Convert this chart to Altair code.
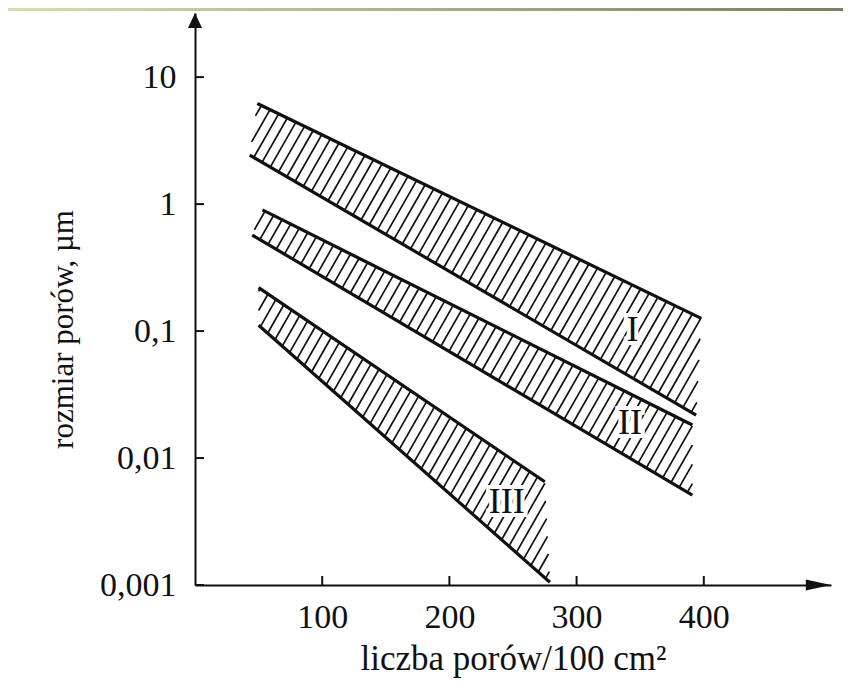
import altair as alt
import pandas as pd
import numpy as np

# ---------------- data ----------------
x_ticks = [100, 200, 300, 400]
y_ticks = [0.001, 0.01, 0.1, 1, 10]

band_names = ["I", "II", "III"]
# upper boundary line of each band (start / end)
top_x0 = [49, 53, 50]
top_y0 = [6.2, 0.9, 0.22]
top_x1 = [398, 391, 275]
top_y1 = [0.126, 0.0182, 0.0065]
# lower boundary line of each band (start / end)
bot_x0 = [43, 45, 50]
bot_y0 = [2.43, 0.57, 0.111]
bot_x1 = [394, 391, 279]
bot_y1 = [0.0218, 0.0051, 0.00105]
# roman numeral labels
label_x = [344, 342, 245]
label_y = [0.102, 0.019, 0.0045]

# ---------------- layout ----------------
W, H = 636, 572
X_DOM = [0, 500]
Y_DOM = [0.001, 32]
FONT = "Liberation Serif"
INK = "#111111"

xs = alt.Scale(domain=X_DOM, nice=False, zero=False)
ys = alt.Scale(type="log", domain=Y_DOM, nice=False)

# boundary lines table
rows = []
for i, n in enumerate(band_names):
    rows.append(dict(band=n, x=top_x0[i], y=top_y0[i], x2=top_x1[i], y2=top_y1[i]))
    rows.append(dict(band=n, x=bot_x0[i], y=bot_y0[i], x2=bot_x1[i], y2=bot_y1[i]))
lines_df = pd.DataFrame(rows)

# hatch segments derived from the band outlines (decoration)
kx = W / (X_DOM[1] - X_DOM[0])
ky = H / np.log10(Y_DOM[1] / Y_DOM[0])
slope = 1.75          # pixel slope of hatch strokes
gap = 11.0            # horizontal pixel gap between strokes
hrows = []
for i, n in enumerate(band_names):
    pts = [(bot_x0[i], bot_y0[i]), (bot_x1[i], bot_y1[i]),
           (top_x1[i], top_y1[i]), (top_x0[i], top_y0[i])]
    P = [((x - X_DOM[0]) * kx, np.log10(y / Y_DOM[0]) * ky) for x, y in pts]
    cs = [v - slope * u for u, v in P]
    step = gap * slope
    for c in np.arange(min(cs) + step * 0.6, max(cs), step):
        hits = []
        for j in range(4):
            (u1, v1), (u2, v2) = P[j], P[(j + 1) % 4]
            f1 = v1 - slope * u1 - c
            f2 = v2 - slope * u2 - c
            if f1 == f2:
                continue
            t = f1 / (f1 - f2)
            if 0 <= t <= 1:
                hits.append((u1 + t * (u2 - u1), v1 + t * (v2 - v1)))
        if len(hits) >= 2:
            hits.sort()
            (ua, va), (ub, vb) = hits[0], hits[-1]
            if ub - ua < 1:
                continue
            hrows.append(dict(band=n,
                              x=ua / kx + X_DOM[0], y=Y_DOM[0] * 10 ** (va / ky),
                              x2=ub / kx + X_DOM[0], y2=Y_DOM[0] * 10 ** (vb / ky)))
hatch_df = pd.DataFrame(hrows)

labels_df = pd.DataFrame(dict(band=band_names, x=label_x, y=label_y))
xt_df = pd.DataFrame(dict(x=x_ticks))
yt_df = pd.DataFrame(dict(y=y_ticks))

# ---------------- axes ----------------
x_axis = alt.Axis(values=x_ticks, ticks=False, tickSize=0, grid=False,
                  domain=True, domainColor=INK, domainWidth=2,
                  labelFont=FONT, labelFontSize=34, labelColor=INK, labelPadding=15,
                  labelFlush=False,
                  title="liczba porów/100 cm²", titleFont=FONT, titleFontSize=35,
                  titleFontWeight="normal", titleColor=INK,
                  titleBaseline="alphabetic", titleY=84)
y_axis = alt.Axis(values=y_ticks, ticks=False, tickSize=0, grid=False,
                  domain=True, domainColor=INK, domainWidth=2,
                  labelFont=FONT, labelFontSize=34, labelColor=INK, labelPadding=19,
                  labelFlush=False,
                  labelExpr="replace(toString(datum.value), '.', ',')",
                  title="rozmiar porów, µm", titleFont=FONT, titleFontSize=31,
                  titleFontWeight="normal", titleColor=INK,
                  titleAngle=270, titleAlign="center", titleBaseline="middle",
                  titleX=-132, titleY=316)

X = alt.X("x:Q", scale=xs, axis=x_axis)
Y = alt.Y("y:Q", scale=ys, axis=y_axis)

# ---------------- layers ----------------
hatch = alt.Chart(hatch_df).mark_rule(color=INK, strokeWidth=1.7).encode(
    x=X, y=Y, x2="x2:Q", y2="y2:Q")

lines = alt.Chart(lines_df).mark_rule(color=INK, strokeWidth=3.2).encode(
    x=X, y=Y, x2="x2:Q", y2="y2:Q")

knock = alt.Chart(labels_df).mark_text(
    font=FONT, fontSize=36, color="white", stroke="white", strokeWidth=8,
    align="center", baseline="middle").encode(x=X, y=Y, text="band:N")
labels = alt.Chart(labels_df).mark_text(
    font=FONT, fontSize=36, color=INK, align="center", baseline="middle").encode(
    x=X, y=Y, text="band:N")

yticks = alt.Chart(yt_df).mark_rule(color=INK, strokeWidth=2).encode(
    y=Y, x=alt.value(0), x2=alt.value(9))
xticks = alt.Chart(xt_df).mark_rule(color=INK, strokeWidth=2).encode(
    x=X, y=alt.value(H), y2=alt.value(H - 9))

arrow_up = alt.Chart(pd.DataFrame({"a": [0]})).mark_point(
    shape="M0,-1L0.7,0.5L-0.7,0.5Z", size=400, filled=True, color=INK, opacity=1).encode(
    x=alt.value(0), y=alt.value(10))
arrow_right = alt.Chart(pd.DataFrame({"a": [0]})).mark_point(
    shape="M1,0L-0.8,0.4L-0.8,-0.4Z", size=784, filled=True, color=INK, opacity=1).encode(
    x=alt.value(W - 14), y=alt.value(H))

strip = alt.Chart(pd.DataFrame({"a": [0]})).mark_rect(
    color=alt.Gradient(gradient="linear",
                       stops=[alt.GradientStop(color="#dcdcae", offset=0),
                              alt.GradientStop(color="#7e7e60", offset=1)],
                       x1=0, x2=1, y1=0, y2=0)).encode(
    x=alt.value(-187), x2=alt.value(W + 12), y=alt.value(-5), y2=alt.value(-2))

chart = alt.layer(hatch, lines, knock, labels, yticks, xticks, arrow_up, arrow_right, strip).properties(
    width=W, height=H,
    autosize=alt.AutoSizeParams(type="none"),
    padding={"left": 187, "top": 5, "right": 12, "bottom": 93},
    background="white",
).configure_view(stroke=None)

chart.save("out.html", embed_options={"renderer": "svg", "actions": False})
